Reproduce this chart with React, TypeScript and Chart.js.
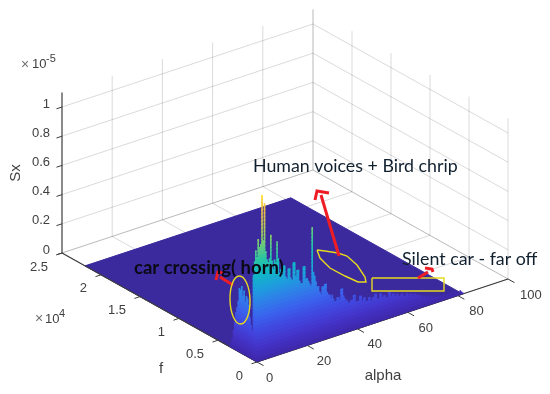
import React, { useEffect, useRef } from "react";
import { Chart, registerables } from "chart.js";

Chart.register(...registerables);

// ---- tick values ----
const alphaTicks = [0, 20, 40, 60, 80, 100];
const fTicks = [0, 5000, 10000, 15000, 20000, 25000];
const fTickLabels = ["0", "0.5", "1", "1.5", "2", "2.5"];
const zTicks = [0, 0.2, 0.4, 0.6, 0.8, 1];
const zTickLabels = ["0", "0.2", "0.4", "0.6", "0.8", "1"];
const alphaMax = 100;
const fMax = 25000;
const zMax = 1.1;

// ---- surface data (Sx in units of 1e-5) ----
const surfaceAlphaEnd = 82;
const surfaceFEnd = 22050;
const alphaStep = 0.5;
// ridge along the low-frequency edge, one value per alphaStep
const peakSx = [
  0.72, 0.84, 0.78, 0.80, 1.13, 0.82, 1.07, 0.74, 0.68, 0.66, 0.68,
  0.84, 0.66, 0.60, 0.66, 0.64, 0.78, 0.66, 0.56, 0.58, 0.54,
  0.60, 0.60, 0.52, 0.50, 0.57, 0.57, 0.50, 0.48, 0.60, 0.60,
  0.50, 0.54, 0.54, 0.46, 0.44, 0.44, 0.55, 0.55, 0.46, 0.46,
  0.44, 0.42, 0.40, 0.80, 0.49, 0.46, 0.42, 0.38, 0.38, 0.34,
  0.32, 0.37, 0.37, 0.38, 0.38, 0.32, 0.30, 0.30, 0.27, 0.29,
  0.26, 0.24, 0.24, 0.26, 0.26, 0.24, 0.31, 0.31, 0.26, 0.24,
  0.22, 0.22, 0.20, 0.20, 0.21, 0.21, 0.24, 0.24, 0.19, 0.19,
  0.19, 0.22, 0.22, 0.18, 0.20, 0.20, 0.17, 0.17, 0.19, 0.19,
  0.16, 0.18, 0.18, 0.20, 0.20, 0.16, 0.16, 0.19, 0.19, 0.16,
  0.17, 0.17, 0.15, 0.15, 0.18, 0.18, 0.15, 0.16, 0.16, 0.14,
  0.15, 0.15, 0.13, 0.13, 0.14, 0.14, 0.12, 0.12, 0.13, 0.13,
  0.11, 0.12, 0.12, 0.10, 0.11, 0.11, 0.10, 0.10, 0.09, 0.09,
  0.08, 0.06, 0.08, 0.07, 0.05, 0.07, 0.06, 0.05, 0.06, 0.05,
  0.04, 0.05, 0.04, 0.05, 0.03, 0.04, 0.04, 0.03, 0.04, 0.03,
  0.03, 0.03, 0.04, 0.02, 0.03, 0.03, 0.02, 0.03, 0.02, 0.02,
  0.02, 0.03, 0.02, 0.01,
];
// horn ridge along the f axis at alpha close to 0
const hornF = [150, 300, 450, 600, 750, 900, 1050, 1200, 1350, 1500, 1650, 1800, 1950, 2100, 2250, 2400, 2550, 2700, 2850, 3000, 3150, 3300, 3450];
const hornSx = [0.76, 0.68, 0.58, 0.20, 0.23, 0.28, 0.36, 0.40, 0.41, 0.37, 0.44, 0.40, 0.46, 0.43, 0.44, 0.35, 0.30, 0.26, 0.19, 0.13, 0.07, 0.04, 0.02];

// colour ramp over Sx
const rampZ = [0, 0.1, 0.2, 0.3, 0.4, 0.5, 0.6, 0.7, 0.8, 0.9, 1.0, 1.1, 1.15];
const rampRGB = [
  [62, 38, 168], [68, 51, 200], [65, 71, 224], [58, 98, 238], [47, 128, 232], [28, 160, 220],
  [16, 184, 196], [44, 196, 160], [112, 200, 120], [176, 196, 88], [224, 184, 80], [252, 208, 48], [250, 240, 32],
];

// ---- annotation shapes, in page units ----
const polyX = [317, 320, 330, 345, 358, 366, 365, 357, 347, 338, 325, 317];
const polyY = [250, 258, 268, 276, 282, 282, 277, 265, 256, 253, 251, 250];
const rectX = [372, 444, 444, 372, 372];
const rectY = [278, 278, 291, 291, 278];
const arrowsX = [[339, 321], [315, 317, 329], [418, 428], [425, 432, 433], [233, 220], [216, 218, 223]];
const arrowsY = [[256, 195], [200, 191, 193], [278, 272], [268, 269, 272], [285, 277], [280, 272, 273]];

// ---- projection of the 3-D box on the page ----
const origin = [257, 362];
const alphaVec = [251, -83];
const fVec = [-195, -109];
const zPerUnit = 146;

function project(alpha: number, f: number, z: number) {
  const a = alpha / alphaMax;
  const b = f / fMax;
  return {
    x: origin[0] + a * alphaVec[0] + b * fVec[0],
    y: origin[1] + a * alphaVec[1] + b * fVec[1] - z * zPerUnit,
  };
}
const GAP = { x: NaN, y: NaN };

function segs(list: number[][]) {
  const out: any[] = [];
  for (const s of list) {
    out.push(project(s[0], s[1], s[2]), project(s[3], s[4], s[5]), GAP);
  }
  return out;
}
function rampColor(z: number) {
  let i = 0;
  while (i < rampZ.length - 2 && z > rampZ[i + 1]) i++;
  const t = Math.min(1, (z - rampZ[i]) / (rampZ[i + 1] - rampZ[i]));
  const c = rampRGB[i].map((v, k) => Math.round(v + (rampRGB[i + 1][k] - v) * t));
  return `rgb(${c[0]},${c[1]},${c[2]})`;
}
const line = (data: any[], color: string, width: number, extra: any = {}) => ({
  data, borderColor: color, borderWidth: width, showLine: true, pointRadius: 0, fill: false, tension: 0, spanGaps: false, ...extra,
});

function buildDatasets() {
  const ds: any[] = [];
  const grid: number[][] = [];
  for (const z of zTicks) {
    grid.push([0, fMax, z, alphaMax, fMax, z], [alphaMax, fMax, z, alphaMax, 0, z]);
  }
  for (const a of alphaTicks) grid.push([a, fMax, 0, a, fMax, zMax], [a, 0, 0, a, fMax, 0]);
  for (const f of fTicks) grid.push([alphaMax, f, 0, alphaMax, f, zMax], [0, f, 0, alphaMax, f, 0]);
  ds.push(line(segs(grid), "rgba(38,38,38,0.17)", 1));

  // surface floor
  const floor = [
    project(0, 0, 0),
    project(surfaceAlphaEnd, 0, 0),
    project(surfaceAlphaEnd, surfaceFEnd, 0),
    project(0, surfaceFEnd, 0),
    project(0, 0, 0),
  ];
  ds.push(line(floor, "#3B2A9E", 1, { fill: "shape", backgroundColor: "#3B2A9E" }));

  // axes
  const axisSegs: number[][] = [
    [0, 0, 0, alphaMax, 0, 0],
    [0, 0, 0, 0, fMax, 0],
    [0, fMax, 0, 0, fMax, zMax],
  ];
  const tA = 2.2, tF = 840;
  const tick: number[][] = [];
  for (const a of alphaTicks) tick.push([a, 0, 0, a, -tF, 0]);
  for (const f of fTicks) tick.push([0, f, 0, -tA, f, 0]);
  for (const z of zTicks) tick.push([0, fMax, z, -tA, fMax, z]);
  ds.push(line(segs(axisSegs), "#3a3a3a", 1.1));
  ds.push(line(segs(tick), "#3a3a3a", 1));

  // spikes, one dataset for each colour band
  const bandStep = 0.025;
  for (let k = 0; k * bandStep < 1.15; k++) {
    const lo = k * bandStep;
    const hi = lo + bandStep;
    const pts: any[] = [];
    hornF.forEach((f, i) => {
      if (hornSx[i] > lo) pts.push(project(0, f, lo), project(0, f, Math.min(hornSx[i], hi + 0.01)), GAP);
    });
    peakSx.forEach((v, i) => {
      const a = i * alphaStep;
      if (v > lo) pts.push(project(a, 0, lo), project(a, 0, Math.min(v, hi + 0.01)), GAP);
    });
    ds.push(line(pts, rampColor(lo + bandStep / 2), 1.6, { borderCapStyle: "butt" }));
  }

  // annotations
  const yellow = "#E6D91E";
  ds.push(line(polyX.map((x, i) => ({ x, y: polyY[i] })), yellow, 1.4));
  ds.push(line(rectX.map((x, i) => ({ x, y: rectY[i] })), yellow, 1.4));
  arrowsX.forEach((xs, j) => {
    ds.push(line(xs.map((x, i) => ({ x, y: arrowsY[j][i] })), "#EE1C25", 3));
  });
  // Chart.js paints the first dataset last, so give each its painting order
  ds.forEach((d, i) => { d.order = ds.length - i; });
  return ds;
}

const textPlugin = {
  id: "labels3d",
  afterDatasetsDraw(chart: any) {
    const c = chart.ctx as CanvasRenderingContext2D;
    const sx = chart.scales.x;
    const sy = chart.scales.y;
    const put = (t: string, x: number, y: number, font: string, color: string, align: CanvasTextAlign = "center") => {
      c.font = font;
      c.fillStyle = color;
      c.textAlign = align;
      c.textBaseline = "middle";
      c.fillText(t, sx.getPixelForValue(x), sy.getPixelForValue(y));
    };
    c.save();
    const tickFont = '13px "Liberation Sans"';
    const grey = "#404040";
    zTicks.forEach((z, i) => {
      const p = project(0, fMax, z);
      put(zTickLabels[i], p.x - 12, p.y - 3, tickFont, grey, "right");
    });
    fTicks.forEach((f, i) => {
      const p = project(0, f, 0);
      put(fTickLabels[i], p.x - 14, p.y + 14, tickFont, grey, "right");
    });
    alphaTicks.forEach((a) => {
      const p = project(a, 0, 0);
      put(String(a), p.x + 9 + a * 0.03, p.y + 16, tickFont, grey, "left");
    });
    const axisFont = '15px "Liberation Sans"';
    put("alpha", 383, 376, axisFont, grey);
    put("f", 161, 369, axisFont, grey);
    c.save();
    c.translate(sx.getPixelForValue(16), sy.getPixelForValue(173));
    c.rotate(-Math.PI / 2);
    c.font = axisFont;
    c.fillStyle = grey;
    c.textAlign = "center";
    c.textBaseline = "middle";
    c.fillText("Sx", 0, 0);
    c.restore();
    put("\u00d7", 25, 65, '14px "Liberation Sans"', "#707070");
    put("10", 32, 64, tickFont, grey, "left");
    put("-5", 46, 59, '11px "Liberation Sans"', grey, "left");
    put("\u00d7", 39, 319, '14px "Liberation Sans"', "#707070");
    put("10", 45, 319, tickFont, grey, "left");
    put("4", 59, 314, '11px "Liberation Sans"', grey, "left");

    const ink = "#10202f";
    put("Human voices + Bird chrip", 253, 166, '17.8px "Lato"', ink, "left");
    put("Silent car - far off", 402, 259, '17.8px "Lato"', ink, "left");
    put("car crossing( horn)", 134, 268, 'bold 18.5px "Lato"', "#0a0a14", "left");

    c.strokeStyle = "#E6D91E";
    c.lineWidth = 1.4;
    c.beginPath();
    c.ellipse(sx.getPixelForValue(240), sy.getPixelForValue(300), 10, 24, -0.03, 0, Math.PI * 2);
    c.stroke();
    c.restore();
  },
};

export default function App() {
  const ref = useRef<HTMLCanvasElement>(null);
  useEffect(() => {
    const chart = new Chart(ref.current as HTMLCanvasElement, {
      type: "scatter",
      data: { datasets: buildDatasets() },
      options: {
        animation: false,
        responsive: false,
        devicePixelRatio: 1,
        layout: { padding: 0 },
        plugins: { legend: { display: false }, tooltip: { enabled: false } },
        scales: {
          x: { type: "linear", display: false, min: 0, max: 550 },
          y: { type: "linear", display: false, min: 0, max: 394, reverse: true },
        },
      },
      plugins: [textPlugin],
    } as any);
    return () => chart.destroy();
  }, []);
  return (
    <canvas
      ref={ref}
      width={550}
      height={394}
      style={{ position: "fixed", left: 0, top: 0, width: 550, height: 394, background: "#fff" }}
    />
  );
}
